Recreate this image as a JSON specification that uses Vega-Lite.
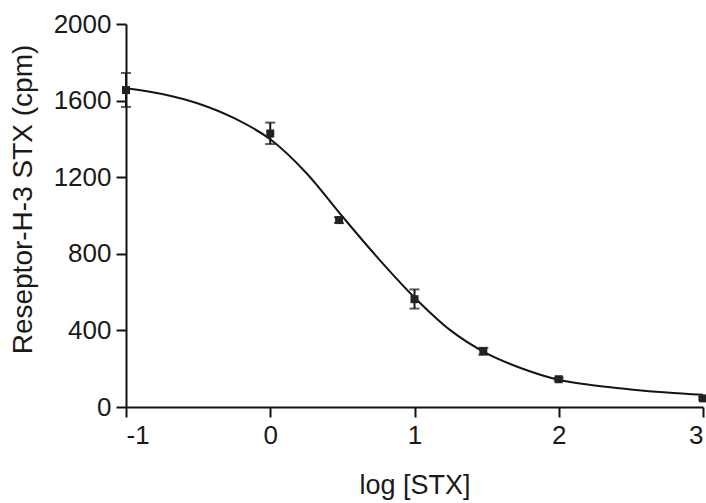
{
  "$schema": "https://vega.github.io/schema/vega-lite/v6.json",
  "width": 577,
  "height": 383,
  "autosize": {"type": "none"},
  "padding": {"left": 126, "top": 24, "right": 3, "bottom": 96},
  "background": "white",
  "config": {
    "view": {"stroke": null},
    "font": "Liberation Sans",
    "axis": {
      "grid": false,
      "domainColor": "#111111",
      "domainWidth": 2,
      "tickColor": "#111111",
      "tickWidth": 2,
      "tickSize": 10,
      "labelFont": "Liberation Sans",
      "labelFontSize": 26,
      "labelColor": "#1a1a1a",
      "labelPadding": 5,
      "titleFont": "Liberation Sans",
      "titleFontWeight": "normal",
      "titleColor": "#1a1a1a"
    }
  },
  "datasets": {
    "points": [
      {"logSTX": -1, "cpm": 1655, "lo": 1567, "hi": 1744},
      {"logSTX": 0, "cpm": 1428, "lo": 1373, "hi": 1485},
      {"logSTX": 0.477, "cpm": 976, "lo": 961, "hi": 991},
      {"logSTX": 1, "cpm": 563, "lo": 514, "hi": 614},
      {"logSTX": 1.477, "cpm": 291, "lo": 273, "hi": 309},
      {"logSTX": 2, "cpm": 145, "lo": 137, "hi": 153},
      {"logSTX": 3, "cpm": 45, "lo": 38, "hi": 52}
    ],
    "curve": [
      {"logSTX": -1, "cpm": 1665},
      {"logSTX": -0.75, "cpm": 1635},
      {"logSTX": -0.5, "cpm": 1585},
      {"logSTX": -0.25, "cpm": 1508},
      {"logSTX": 0, "cpm": 1398},
      {"logSTX": 0.25, "cpm": 1222},
      {"logSTX": 0.5, "cpm": 995},
      {"logSTX": 0.75, "cpm": 775},
      {"logSTX": 1, "cpm": 572},
      {"logSTX": 1.25, "cpm": 400},
      {"logSTX": 1.5, "cpm": 280},
      {"logSTX": 1.75, "cpm": 200},
      {"logSTX": 2, "cpm": 142},
      {"logSTX": 2.25, "cpm": 112},
      {"logSTX": 2.5, "cpm": 92},
      {"logSTX": 2.75, "cpm": 76},
      {"logSTX": 3, "cpm": 64}
    ]
  },
  "layer": [
    {
      "data": {"name": "curve"},
      "mark": {"type": "line", "interpolate": "monotone", "color": "#151515", "strokeWidth": 2},
      "encoding": {
        "x": {
          "field": "logSTX", "type": "quantitative",
          "scale": {"domain": [-1, 3], "nice": false, "zero": false},
          "axis": {
            "values": [-1, 0, 1, 2, 3],
            "labelExpr": "'' + datum.value",
            "labelFontSize": 26,
            "title": "log [STX]",
            "titleFontSize": 27,
            "titlePadding": 24
          }
        },
        "y": {
          "field": "cpm", "type": "quantitative",
          "scale": {"domain": [0, 2000], "nice": false},
          "axis": {
            "values": [0, 400, 800, 1200, 1600, 2000],
            "labelExpr": "'' + datum.value",
            "labelFontSize": 26,
            "title": "Reseptor-H-3 STX (cpm)",
            "titleFontSize": 28,
            "titlePadding": 16,
            "titleY": 175
          }
        }
      }
    },
    {
      "data": {"name": "points"},
      "mark": {"type": "rule", "color": "#151515", "strokeWidth": 2},
      "encoding": {
        "x": {"field": "logSTX", "type": "quantitative"},
        "y": {"field": "lo", "type": "quantitative"},
        "y2": {"field": "hi"}
      }
    },
    {
      "data": {"name": "points"},
      "mark": {"type": "tick", "orient": "horizontal", "color": "#151515", "size": 10, "thickness": 2},
      "encoding": {
        "x": {"field": "logSTX", "type": "quantitative"},
        "y": {"field": "lo", "type": "quantitative"}
      }
    },
    {
      "data": {"name": "points"},
      "mark": {"type": "tick", "orient": "horizontal", "color": "#151515", "size": 10, "thickness": 2},
      "encoding": {
        "x": {"field": "logSTX", "type": "quantitative"},
        "y": {"field": "hi", "type": "quantitative"}
      }
    },
    {
      "data": {"name": "points"},
      "mark": {"type": "square", "color": "#222222", "size": 64, "opacity": 1},
      "encoding": {
        "x": {"field": "logSTX", "type": "quantitative"},
        "y": {"field": "cpm", "type": "quantitative"}
      }
    }
  ]
}
